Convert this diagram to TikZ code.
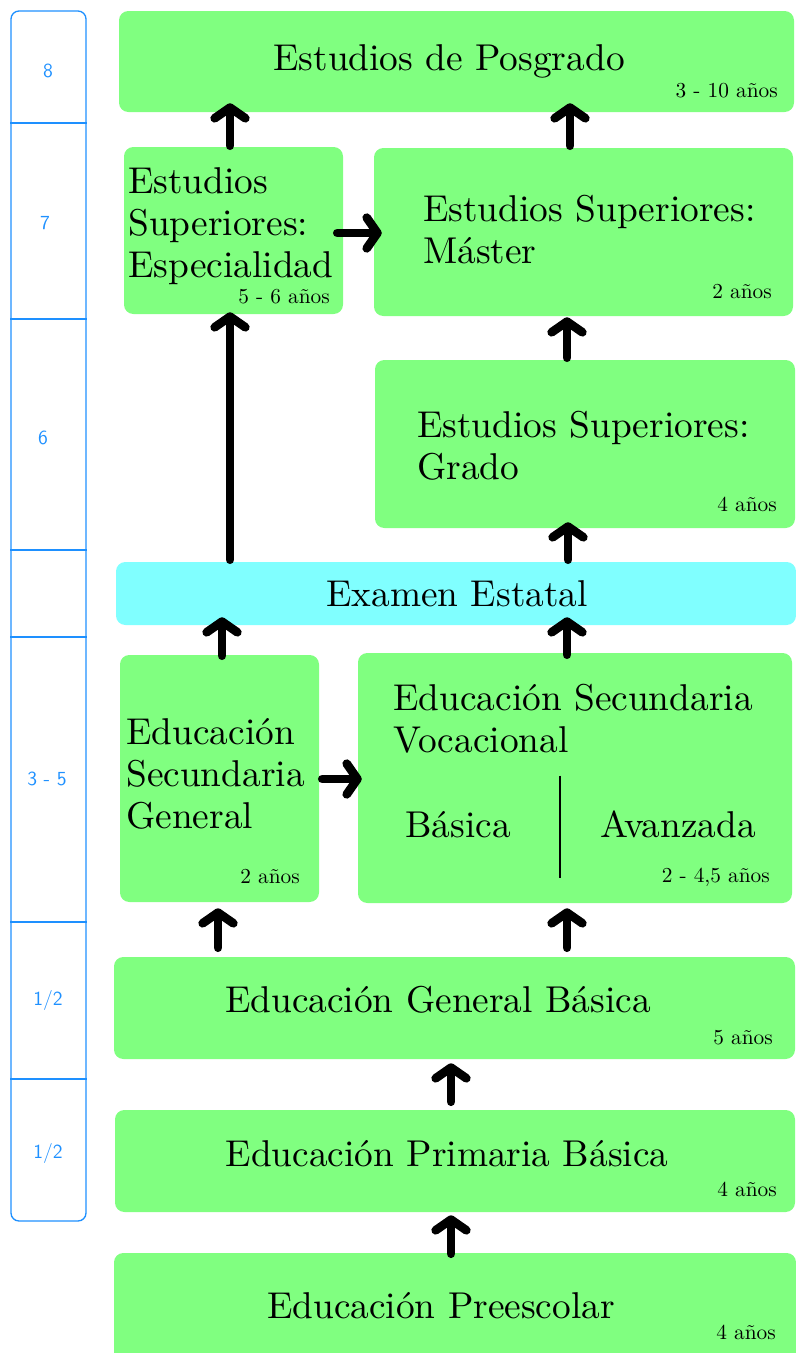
\documentclass[tikz,border=0pt]{standalone}
\usepackage{fontspec}
\newfontfamily\bigf{lmroman10-regular.otf}
\usetikzlibrary{arrows.meta,fit}
\definecolor{boxgreen}{HTML}{80FF80}
\definecolor{boxcyan}{HTML}{80FFFF}
\definecolor{colblue}{HTML}{1E90FF}
\begin{document}
\begin{tikzpicture}[x=0.75pt,y=-0.75pt,
  box/.style={fill=boxgreen, rounded corners=7pt, inner sep=0pt, draw=none},
  exambox/.style={box, fill=boxcyan},
  big/.style={font=\bigf\fontsize{28}{31.5}\selectfont, inner sep=0pt},
  yrs/.style={font=\bigf\fontsize{16}{18}\selectfont, inner sep=0pt, anchor=base east},
  lvl/.style={font=\sffamily\fontsize{15}{17}\selectfont, text=colblue, inner sep=0pt, anchor=base},
  arr/.style={line width=6.5pt, line cap=round, -{Straight Barb[length=8pt,width=23pt,round]}},
  divider/.style={draw=colblue, line width=1pt}
]
\useasboundingbox (0,0) rectangle (796,1353);

% level column
\node[draw=colblue, line width=1pt, rounded corners=6pt, inner sep=0pt, fit={(11,11) (86,1221)}] (col) {};
\foreach \yy in {123,319,550,637,922,1079}
  \draw[divider] (col.west |- 0,\yy) -- (col.east |- 0,\yy);
\node[lvl] (l8) at (48,77) {8};
\node[lvl] (l7) at (45,229) {7};
\node[lvl] (l6) at (43,444) {6};
\node[lvl] (l35) at (47,785) {3 - 5};
\node[lvl] (l12a) at (48,1005) {1/2};
\node[lvl] (l12b) at (48,1158) {1/2};

% boxes
\node[box, fit={(119,11) (794,112)}] (pos) {};
\node[box, fit={(124,147) (343,314)}] (esp) {};
\node[box, fit={(374,148) (793,316)}] (mas) {};
\node[box, fit={(375,360) (795,528)}] (gra) {};
\node[exambox, fit={(116,562) (796,625)}] (exa) {};
\node[box, fit={(120,655) (319,902)}] (sg) {};
\node[box, fit={(358,653) (792,903)}] (sv) {};
\node[box, fit={(114,957) (795,1059)}] (gb) {};
\node[box, fit={(115,1110) (795,1212)}] (pb) {};
\node[box, fit={(114,1253) (796,1365)}] (pre) {};

% texts (multi-line nodes: base anchor = last line)
\node[big, anchor=base] (posT) at (449,70) {Estudios de Posgrado};
\node[yrs] (posY) at (778,97) {3 - 10 años};
\node[big, anchor=base west, align=left] (espT) at (128,277) {Estudios\\Superiores:\\Especialidad};
\node[yrs] (espY) at (330,303) {5 - 6 años};
\node[big, anchor=base west, align=left] (masT) at (423,263) {Estudios Superiores:\\Máster};
\node[yrs] (masY) at (772,298) {2 años};
\node[big, anchor=base west, align=left] (graT) at (417,479) {Estudios Superiores:\\Grado};
\node[yrs] (graY) at (777,511) {4 años};
\node[big, anchor=base] (exaT) at (457,606) {Examen Estatal};
\node[big, anchor=base west, align=left] (sgT) at (126,828) {Educación\\Secundaria\\General};
\node[yrs] (sgY) at (300,883) {2 años};
\node[big, anchor=base west, align=left] (svT) at (393,752) {Educación Secundaria\\Vocacional};
\node[big, anchor=base west] (svB) at (405,837) {Básica};
\node[big, anchor=base west] (svA) at (600,837) {Avanzada};
\node[yrs] (svY) at (770,882) {2 - 4,5 años};
\draw[line width=1.5pt] (sv.north -| 560,0) ++(0,123) -- ++(0,102);
\node[big, anchor=base] (gbT) at (438,1012) {Educación General Básica};
\node[yrs] (gbY) at (773,1044) {5 años};
\node[big, anchor=base] (pbT) at (447,1166) {Educación Primaria Básica};
\node[yrs] (pbY) at (777,1196) {4 años};
\node[big, anchor=base] (preT) at (441,1318) {Educación Preescolar};
\node[yrs] (preY) at (776,1339) {4 años};

% connectors
\draw[arr, shorten <=0.75pt, shorten >=-6.75pt] (esp.north -| 230,0) -- (pos.south -| 230,0);
\draw[arr, shorten <=1.5pt, shorten >=-6.75pt] (mas.north -| 570,0) -- (pos.south -| 570,0);
\draw[arr, shorten <=-4.5pt, shorten >=-6pt] (esp.east |- 0,233) -- (mas.west |- 0,233);
\draw[arr, shorten <=1.5pt, shorten >=-1.5pt] (exa.north -| 230,0) -- (esp.south -| 230,0);
\draw[arr, shorten <=1.5pt, shorten >=0.75pt] (gra.north -| 567,0) -- (mas.south -| 567,0);
\draw[arr, shorten <=1.5pt, shorten >=-4.5pt] (exa.north -| 568,0) -- (gra.south -| 568,0);
\draw[arr, shorten <=-0.75pt, shorten >=-6pt] (sg.north -| 222,0) -- (exa.south -| 222,0);
\draw[arr, shorten <=-1.5pt, shorten >=-6pt] (sv.north -| 567,0) -- (exa.south -| 567,0);
\draw[arr, shorten <=2.25pt, shorten >=-3pt] (sg.east |- 0,779) -- (sv.west |- 0,779);
\draw[arr, shorten <=6.75pt, shorten >=4.5pt] (gb.north -| 218,0) -- (sg.south -| 218,0);
\draw[arr, shorten <=6.75pt, shorten >=3.75pt] (gb.north -| 567,0) -- (sv.south -| 567,0);
\draw[arr, shorten <=6pt, shorten >=3pt] (pb.north -| 451,0) -- (gb.south -| 451,0);
\draw[arr, shorten <=-0.75pt, shorten >=2.25pt] (pre.north -| 451,0) -- (pb.south -| 451,0);
\end{tikzpicture}
\end{document}
